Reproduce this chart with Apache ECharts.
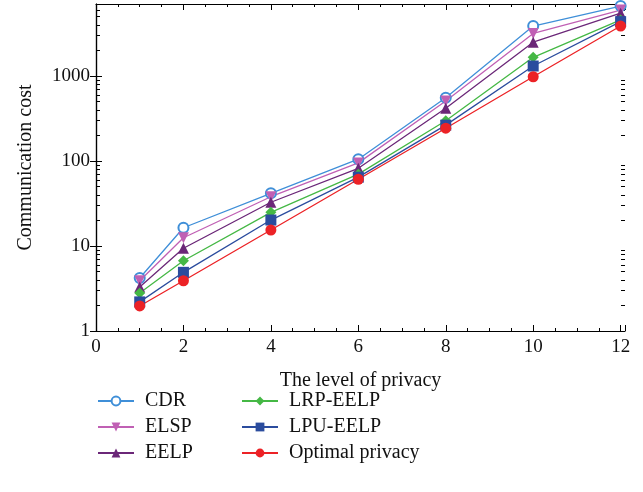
<!DOCTYPE html>
<html>
<head>
<meta charset="utf-8">
<script src="https://cdn.jsdelivr.net/npm/echarts@6/dist/echarts.min.js"></script>
<style>
  html, body { margin: 0; padding: 0; background: #fff; }
  #chart { width: 643px; height: 492px; }
</style>
</head>
<body>
<div id="chart"></div>
<script>
// privacy levels (x)
var levels = [1, 2, 4, 6, 8, 10, 12];

// communication cost per method
var cdr = [4.2, 16.4, 41.7, 105, 556, 3870, 6650];
var elsp = [3.9, 12.5, 38, 95, 508, 3170, 5970];
var eelp = [3.3, 9.4, 32.7, 82, 417, 2500, 5490];
var lrpEelp = [2.8, 6.7, 24.9, 70, 298, 1660, 4570];
var lpuEelp = [2.2, 4.9, 20.2, 64.5, 264, 1310, 4360];
var optimal = [1.97, 3.9, 15.4, 61, 243, 980, 3870];

var names = ["CDR", "ELSP", "EELP", "LRP-EELP", "LPU-EELP", "Optimal privacy"];

// ticks of the log axis
var majorLog = [1, 10, 100, 1000];
var minorLog = [2, 3, 4, 5, 6, 7, 8, 9, 20, 30, 40, 50, 60, 70, 80, 90,
  200, 300, 400, 500, 600, 700, 800, 900, 2000, 3000, 4000, 5000, 6000, 7000];

var font = "Liberation Serif";

function pairs(vals) {
  return levels.map(function (x, i) { return [x, vals[i]]; });
}

function makeSeries(name, vals, color, symbol, rotate) {
  return {
    name: name,
    type: "line",
    data: pairs(vals),
    symbol: symbol,
    symbolSize: symbol == "emptyCircle" ? 10 : 11,
    symbolRotate: rotate || 0,
    lineStyle: { color: color, width: 1.3 },
    itemStyle: { color: color, borderWidth: symbol == "emptyCircle" ? 1.3 : 0 },
    emphasis: { disabled: true },
    animation: false,
  };
}

var chart = echarts.init(document.getElementById("chart"));

var ymax = 7030;

var xAxisBase = {
  type: "value",
  min: 0,
  max: 12.1,
  interval: 2,
  splitLine: { show: false },
  axisLine: { lineStyle: { color: "#000", width: 1.2 } },
  axisTick: { inside: true, length: 6, lineStyle: { color: "#000" } },
  minorTick: { show: true, splitNumber: 4, length: 3, lineStyle: { color: "#000" } },
};

var yAxisBase = {
  type: "log",
  logBase: 10,
  min: 1,
  max: ymax,
  offset: 0,
  splitLine: { show: false },
  axisLine: { lineStyle: { color: "#000", width: 1.2 } },
};

var legendText = { fontFamily: font, fontSize: 20, color: "#111", padding: [0, 0, 0, 6], lineHeight: 16 };

var option = {
  backgroundColor: "#fff",
  grid: { left: 96, right: 18, top: 4, bottom: 161 },
  xAxis: [
    Object.assign({}, xAxisBase, {
      position: "bottom",
      name: "The level of privacy",
      nameLocation: "middle",
      nameGap: 40,
      nameTextStyle: { fontFamily: font, fontSize: 20, color: "#111" },
      axisLabel: {
        fontFamily: font, fontSize: 19, color: "#111", margin: 7,
        formatter: function (v) { return v % 2 === 0 ? String(v) : ""; },
      },
    }),
    Object.assign({}, xAxisBase, {
      position: "top",
      axisLabel: { show: false },
    }),
  ],
  yAxis: [
    Object.assign({}, yAxisBase, {
      position: "left",
      name: "Communication cost",
      nameLocation: "middle",
      nameGap: 60,
      nameTextStyle: { fontFamily: font, fontSize: 20, color: "#111" },
      axisTick: { inside: true, length: 6, customValues: majorLog, lineStyle: { color: "#000" } },
      axisLabel: {
        fontFamily: font, fontSize: 19, color: "#111", margin: 6,
        customValues: majorLog,
        formatter: function (v) { return String(Math.round(v)); },
      },
    }),
    Object.assign({}, yAxisBase, {
      position: "right",
      axisTick: { inside: true, length: 6, customValues: majorLog, lineStyle: { color: "#000" } },
      axisLabel: { show: false },
    }),
    Object.assign({}, yAxisBase, {
      position: "left",
      axisLine: { show: false },
      axisTick: { inside: true, length: 4, customValues: minorLog, lineStyle: { color: "#000", width: 1 } },
      axisLabel: { show: false },
    }),
    Object.assign({}, yAxisBase, {
      position: "right",
      axisLine: { show: false },
      axisTick: { inside: true, length: 4, customValues: minorLog, lineStyle: { color: "#000", width: 1 } },
      axisLabel: { show: false },
    }),
  ],
  legend: [
    {
      orient: "vertical",
      left: 92,
      top: 386,
      data: names.slice(0, 3),
      itemWidth: 36,
      itemHeight: 11,
      itemGap: 6,
      textStyle: legendText,
    },
    {
      orient: "vertical",
      left: 236,
      top: 386,
      data: names.slice(3),
      itemWidth: 36,
      itemHeight: 11,
      itemGap: 6,
      textStyle: legendText,
    },
  ],
  series: [
    makeSeries("CDR", cdr, "#3f8fd8", "emptyCircle"),
    makeSeries("ELSP", elsp, "#c060b4", "triangle", 180),
    makeSeries("EELP", eelp, "#6b2778", "triangle"),
    makeSeries("LRP-EELP", lrpEelp, "#45b845", "diamond"),
    makeSeries("LPU-EELP", lpuEelp, "#2b4c9e", "rect"),
    makeSeries("Optimal privacy", optimal, "#ec2226", "circle"),
  ],
};

chart.setOption(option);

window.addEventListener("resize", function () {
  chart.resize();
});
</script>
</body>
</html>
